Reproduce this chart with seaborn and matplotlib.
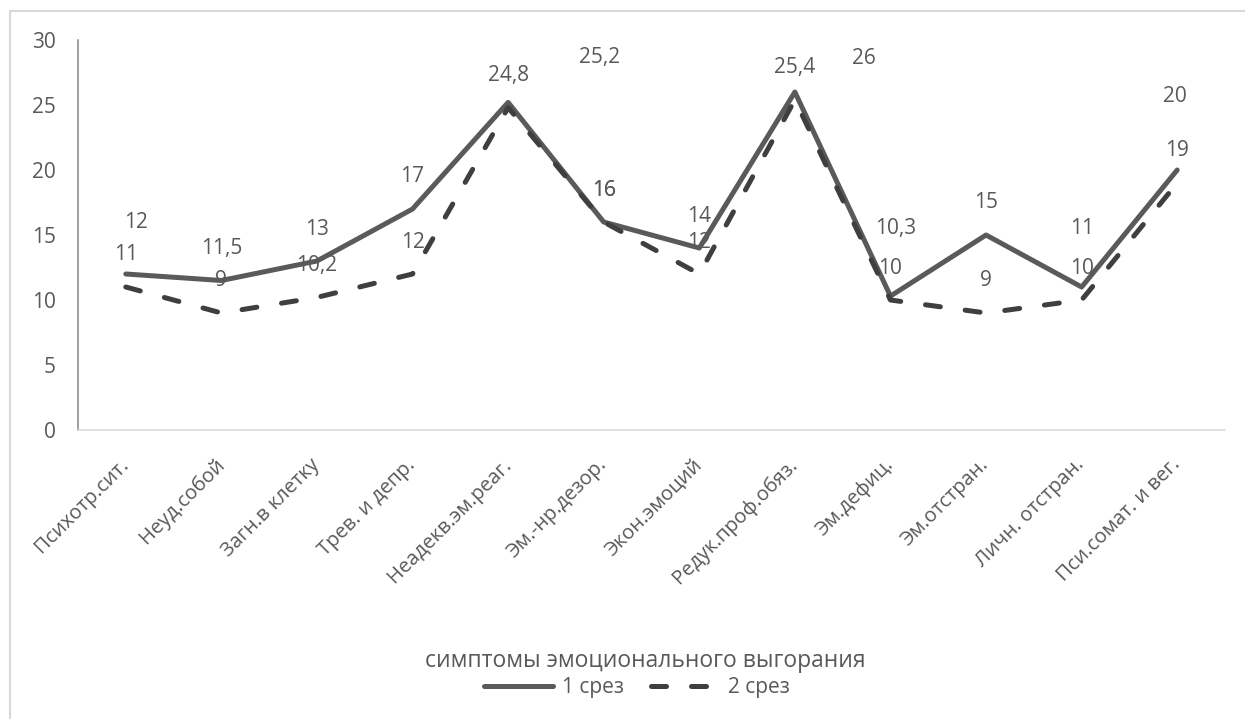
import numpy as np
import pandas as pd
import matplotlib
matplotlib.use("Agg")
import matplotlib.pyplot as plt
from matplotlib.lines import Line2D
import seaborn as sns

# Symptoms of emotional burnout (x categories)
categories = [
    "Психотр.сит.", "Неуд.собой", "Загн.в клетку", "Трев. и депр.",
    "Неадекв.эм.реаг.", "Эм.-нр.дезор.", "Экон.эмоций", "Редук.проф.обяз.",
    "Эм.дефиц.", "Эм.отстран.", "Личн. отстран.", "Пси.сомат. и вег.",
]
series_names = ["1 срез", "2 срез"]
values_1 = [12, 11.5, 13, 17, 25.2, 16, 14, 26, 10.3, 15, 11, 20]
values_2 = [11, 9, 10.2, 12, 24.8, 16, 12, 25.4, 10, 9, 10, 19]
y_ticks = [0, 5, 10, 15, 20, 25, 30]
x_title = "симптомы эмоционального выгорания"

TEXT = "#595959"
COL_1 = "#5a5a5a"
COL_2 = "#3f3f3f"
FS = 15

sns.set_theme(style="white")
plt.rcParams["font.family"] = ["Open Sans", "DejaVu Sans"]

W, H = 1245, 719
fig = plt.figure(figsize=(W / 100, H / 100), dpi=100)
ax = fig.add_axes([78 / W, 1 - 430 / H, (1225 - 78) / W, (430 - 40) / H])

pos = np.arange(len(categories))
df = pd.DataFrame({
    "pos": np.concatenate([pos, pos]),
    "value": values_1 + values_2,
    "series": [series_names[0]] * len(pos) + [series_names[1]] * len(pos),
})

sns.lineplot(
    data=df, x="pos", y="value", hue="series", style="series",
    palette={series_names[0]: COL_1, series_names[1]: COL_2},
    dashes={series_names[0]: "", series_names[1]: (3, 5)},
    linewidth=3.6, ax=ax, legend=False, sort=False,
)
for ln in ax.get_lines():
    ln.set_dash_capstyle("round")
    ln.set_solid_capstyle("round")
    ln.set_solid_joinstyle("round")
    ln.set_dash_joinstyle("round")

def fmt(v):
    return f"{v:g}".replace(".", ",")

# label offsets (pixels) for the first series where labels were moved
offs_1 = {0: (10, 52), 4: (91, 45), 7: (69, 34), 8: (5, 68), 10: (0, 59), 11: (-2, 74)}
for i, v in enumerate(values_1):
    dx, dy = offs_1.get(i, (0, 32))
    ax.annotate(fmt(v), (pos[i], v), xytext=(dx, dy), textcoords="offset pixels",
                ha="center", va="center", fontsize=FS, color=TEXT, zorder=5)
for i, v in enumerate(values_2):
    ax.annotate(fmt(v), (pos[i], v), xytext=(0, 32), textcoords="offset pixels",
                ha="center", va="center", fontsize=FS, color=TEXT, zorder=5)

ax.set_xlim(-0.5, len(categories) - 0.5)
ax.set_ylim(0, 30)
ax.set_yticks(y_ticks)
ax.set_yticklabels([str(t) for t in y_ticks], fontsize=FS, color=TEXT)
ax.set_xticks(pos)
ax.set_xticklabels(categories, fontsize=14.5, color=TEXT, rotation=45,
                   ha="right", va="center", rotation_mode="anchor")
ax.tick_params(axis="y", length=0, pad=16)
ax.tick_params(axis="x", length=0, pad=23)
ax.set_xlabel("")
ax.set_ylabel("")

for s in ["top", "right"]:
    ax.spines[s].set_visible(False)
ax.spines["left"].set_color("#868686")
ax.spines["left"].set_linewidth(1.1)
ax.spines["bottom"].set_color("#d9d9d9")
ax.spines["bottom"].set_linewidth(1.1)

fig.text(645 / W, 1 - 661 / H, x_title, ha="center", va="center",
         fontsize=16.5, color=TEXT)

handles = [
    Line2D([], [], color=COL_1, lw=3.6, solid_capstyle="round"),
    Line2D([], [], color=COL_2, lw=3.6, linestyle=(0, (3, 5)), dash_capstyle="round"),
]
fig.legend(handles, series_names, loc="center", bbox_to_anchor=(637 / W, 1 - 688 / H),
           ncol=2, frameon=False, fontsize=FS, labelcolor=TEXT,
           handlelength=3.3, handletextpad=0.4, columnspacing=1.3)

# chart frame
fig.add_artist(Line2D([9.5 / W, 9.5 / W], [0, 1 - 11 / H], color="#d9d9d9", lw=1.5,
                      transform=fig.transFigure))
fig.add_artist(Line2D([9.5 / W, 1], [1 - 11 / H, 1 - 11 / H], color="#d9d9d9", lw=1.5,
                      transform=fig.transFigure))

fig.savefig("out.png", dpi=100, facecolor="white")
